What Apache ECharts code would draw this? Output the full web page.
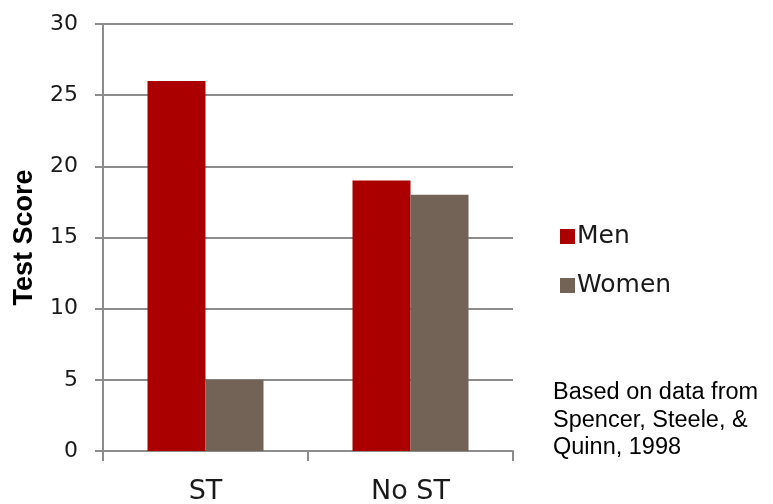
<!DOCTYPE html>
<html><head><meta charset="utf-8">
<script src="https://cdn.jsdelivr.net/npm/echarts@6/dist/echarts.min.js"></script>
<style>html,body{margin:0;padding:0;background:#fff}#c{width:773px;height:504px}</style>
</head><body><div id="c"></div>
<script>
var categories = ['ST', 'No ST'];
var men = [26, 19];
var women = [5, 18];
var seriesNames = ['Men', 'Women'];
var noteLines = ['Based on data from', 'Spencer, Steele, &', 'Quinn, 1998'];

var chart = echarts.init(document.getElementById('c'));
var gray = '#8c8c8c';
chart.setOption({
  animation: false,
  backgroundColor: '#fff',
  grid: { left: 103, right: 260, top: 24, bottom: 53, containLabel: false, outerBoundsMode: 'none' },
  legend: {
    orient: 'vertical', left: 555, top: 219,
    itemWidth: 15, itemHeight: 15, itemGap: 24,
    icon: 'rect',
    textStyle: { fontFamily: 'DejaVu Sans', fontSize: 25, color: '#1a1a1a', padding: [0,0,0,-3] },
    data: seriesNames
  },
  graphic: [{
    type: 'text', left: 553, top: 379,
    style: { text: noteLines.join('\n'), fontFamily: 'Liberation Sans, Arial', fontSize: 23.5, lineHeight: 27.5, fill: '#000' }
  }],
  xAxis: {
    type: 'category', data: categories,
    axisLine: { show: true, lineStyle: { color: gray, width: 2 } },
    axisTick: { show: true, length: 10, lineStyle: { color: gray, width: 2 } },
    axisLabel: { fontFamily: 'DejaVu Sans', fontSize: 27, color: '#1a1a1a', margin: 27 }
  },
  yAxis: {
    type: 'value', min: 0, max: 30, interval: 5,
    name: 'Test Score', nameLocation: 'middle', nameGap: 65,
    nameTextStyle: { fontFamily: 'Liberation Sans, Arial', fontWeight: 'bold', fontSize: 27, color: '#000' },
    axisLine: { show: true, lineStyle: { color: gray, width: 2 } },
    axisTick: { show: true, length: 8, lineStyle: { color: gray, width: 2 } },
    splitLine: { show: true, lineStyle: { color: gray, width: 2 } },
    axisLabel: { fontFamily: 'DejaVu Sans', fontSize: 22, color: '#1a1a1a', margin: 25 }
  },
  series: [
    { name: seriesNames[0], type: 'bar', data: men, barWidth: 58, barGap: '0%', itemStyle: { color: '#aa0000' } },
    { name: seriesNames[1], type: 'bar', data: women, barWidth: 58, barGap: '0%', itemStyle: { color: '#736357' } }
  ]
});
</script></body></html>
